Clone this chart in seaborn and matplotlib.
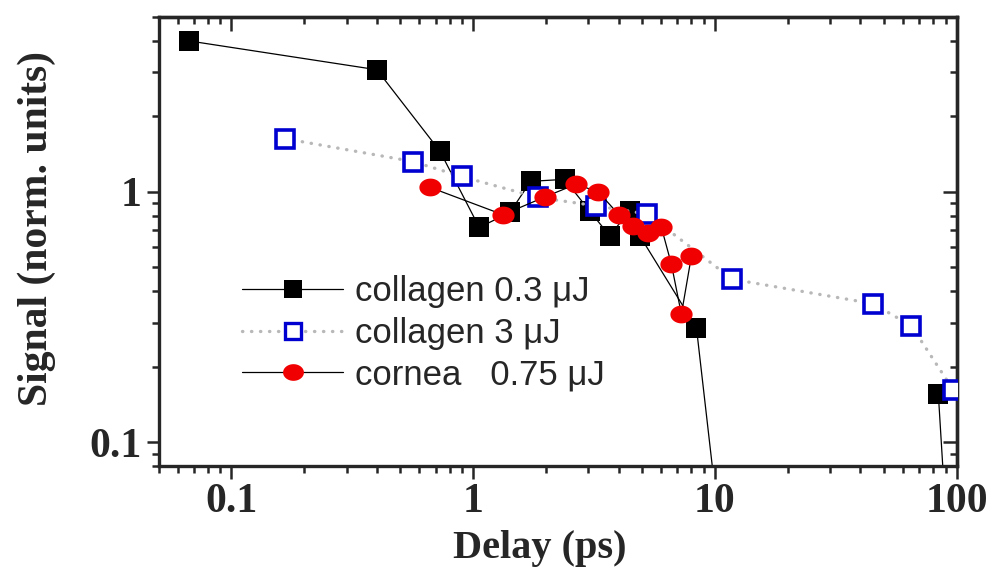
import numpy as np
import pandas as pd
import seaborn as sns
import matplotlib
matplotlib.use('Agg')
import matplotlib.pyplot as plt
from matplotlib.path import Path
from matplotlib.lines import Line2D
from matplotlib.ticker import FuncFormatter, NullFormatter, FixedLocator

# collagen 0.3 uJ, the curve drops below the axis twice (seg 0 and seg 1)
col03_delay = [0.067, 0.40, 0.73, 1.06, 1.42, 1.73, 2.39, 3.03, 3.67, 4.45, 4.89, 8.39, 11.5, 84.0, 100.0]
col03_signal = [4.0, 3.07, 1.45, 0.72, 0.826, 1.10, 1.12, 0.839, 0.667, 0.839, 0.667, 0.286, 0.02, 0.155, 0.01]
col03_seg = [0] * 13 + [1] * 2

# collagen 3 uJ
col3_delay = [0.166, 0.563, 0.896, 1.85, 3.21, 5.26, 11.8, 45.1, 65.0, 97.0]
col3_signal = [1.63, 1.32, 1.15, 0.949, 0.879, 0.814, 0.447, 0.357, 0.291, 0.161]

# cornea 0.75 uJ
cornea_delay = [0.665, 1.33, 1.99, 2.66, 3.29, 4.01, 4.59, 5.29, 6.01, 6.61, 7.27, 8.0]
cornea_signal = [1.04, 0.809, 0.955, 1.07, 1.0, 0.809, 0.731, 0.687, 0.72, 0.513, 0.324, 0.554]

labels = ['collagen 0.3 \u03bcJ', 'collagen 3 \u03bcJ', 'cornea   0.75 \u03bcJ']
x_ticks = [0.1, 1, 10, 100]
y_ticks = [0.1, 1]

sns.set_style('ticks')
plt.rcParams['font.family'] = ['Liberation Serif', 'DejaVu Serif']
plt.rcParams['font.weight'] = 'bold'

fig, ax = plt.subplots(figsize=(9.89, 5.70), dpi=100)
fig.subplots_adjust(left=0.1603, right=0.9673, top=0.9707, bottom=0.1819)
ax.set_xscale('log')
ax.set_yscale('log')

# flattened circle like the original markers
t = np.linspace(0, 2 * np.pi, 80)
ellipse = Path(np.column_stack([np.cos(t), 0.8 * np.sin(t)]), closed=True)

df03 = pd.DataFrame({'delay': col03_delay, 'signal': col03_signal, 'seg': col03_seg})
df3 = pd.DataFrame({'delay': col3_delay, 'signal': col3_signal})
dfc = pd.DataFrame({'delay': cornea_delay, 'signal': cornea_signal})

sns.lineplot(data=df03, x='delay', y='signal', units='seg', estimator=None, sort=False, ax=ax,
             color='black', linewidth=0.9, marker='s', markersize=14,
             markerfacecolor='black', markeredgecolor='black', markeredgewidth=0, zorder=2)
sns.lineplot(data=df3, x='delay', y='signal', estimator=None, sort=False, ax=ax,
             color='#b8b8b8', linewidth=2.4, linestyle=(0, (0.1, 2.6)), dash_capstyle='round',
             marker='s', markersize=12.5, markerfacecolor='white',
             markeredgecolor='#0000d0', markeredgewidth=2.6, zorder=3)
sns.lineplot(data=dfc, x='delay', y='signal', estimator=None, sort=False, ax=ax,
             color='black', linewidth=0.9, marker=ellipse, markersize=16,
             markerfacecolor='#f00000', markeredgecolor='#f00000', markeredgewidth=0, zorder=4)

ax.set_xlim(0.05, 100)
ax.set_ylim(0.08, 5)

ax.xaxis.set_major_locator(FixedLocator(x_ticks))
ax.yaxis.set_major_locator(FixedLocator(y_ticks))
fmt = FuncFormatter(lambda v, p: f'{v:g}')
ax.xaxis.set_major_formatter(fmt)
ax.yaxis.set_major_formatter(fmt)
ax.xaxis.set_minor_formatter(NullFormatter())
ax.yaxis.set_minor_formatter(NullFormatter())

for s in ax.spines.values():
    s.set_linewidth(2.4)
ax.tick_params(which='both', direction='out', top=False, right=False, width=1.8,
               labelsize=30, pad=3)
ax.tick_params(which='major', length=9)
ax.tick_params(which='minor', length=5)

# top and right axes carry inward ticks without labels
secx = ax.secondary_xaxis('top')
secy = ax.secondary_yaxis('right')
for sec, axis in ((secx, secx.xaxis), (secy, secy.yaxis)):
    axis.set_major_locator(FixedLocator(x_ticks if sec is secx else y_ticks))
    axis.set_major_formatter(NullFormatter())
    axis.set_minor_formatter(NullFormatter())
    sec.tick_params(which='both', direction='in', width=1.8)
    sec.tick_params(which='major', length=10)
    sec.tick_params(which='minor', length=5)
    for s in sec.spines.values():
        s.set_linewidth(2.4)

ax.set_xlabel('Delay (ps)', fontsize=29, fontweight='bold')
ax.set_ylabel('Signal (norm. units)', fontsize=30, fontweight='bold')
ax.xaxis.set_label_coords(0.478, -0.142)
ax.yaxis.set_label_coords(-0.128, 0.53)

handles = [
    Line2D([], [], color='black', linewidth=0.9, marker='s', markersize=13,
           markerfacecolor='black', markeredgecolor='black', markeredgewidth=0),
    Line2D([], [], color='#b8b8b8', linewidth=2.4, linestyle=(0, (0.1, 2.6)), dash_capstyle='round',
           marker='s', markersize=11, markerfacecolor='white',
           markeredgecolor='#0000d0', markeredgewidth=2.4),
    Line2D([], [], color='black', linewidth=0.9, marker=ellipse, markersize=15,
           markerfacecolor='#f00000', markeredgecolor='#f00000', markeredgewidth=0),
]
ax.legend(handles, labels, loc='upper left', bbox_to_anchor=(0.105, 0.425), frameon=False,
          borderpad=0, borderaxespad=0, handlelength=2.9, handletextpad=0.35, labelspacing=0.25,
          prop={'family': ['Liberation Sans Narrow', 'Liberation Sans', 'DejaVu Sans'],
                'size': 25, 'weight': 'normal'})

fig.savefig('out.png', dpi=100)
